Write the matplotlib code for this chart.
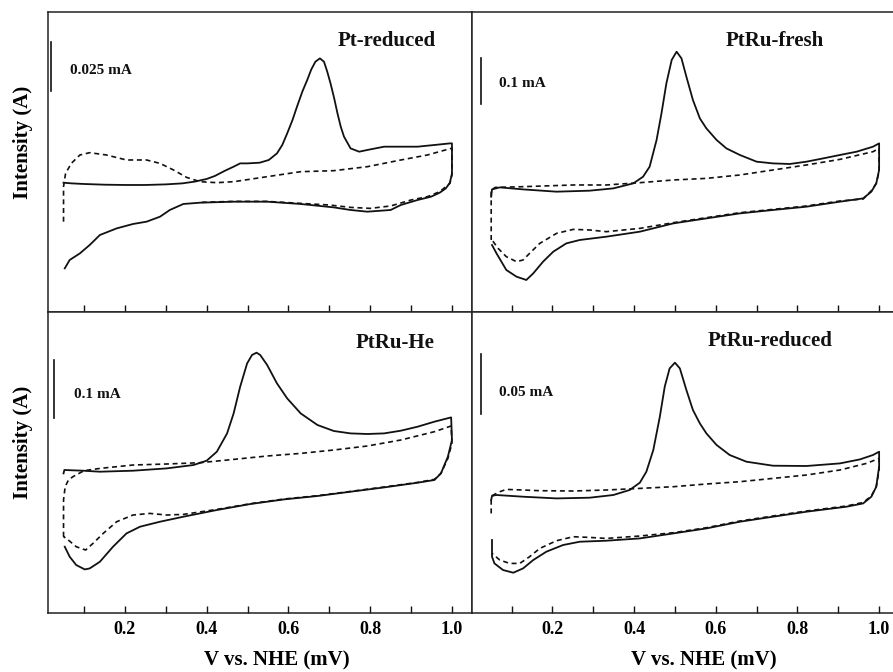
import matplotlib
matplotlib.use("Agg")
import matplotlib.pyplot as plt
from matplotlib.ticker import FixedLocator

# ---------------- data (potential V vs NHE, current in arbitrary units) ----------------
# Pt-reduced
ptred_solid_v = [0.050, 0.070, 0.100, 0.150, 0.200, 0.250, 0.300, 0.340, 0.370, 0.400, 0.420, 0.445,
                 0.466, 0.482, 0.500, 0.530, 0.552, 0.572, 0.585, 0.597, 0.610, 0.621, 0.634, 0.646,
                 0.656, 0.666, 0.677, 0.687, 0.695, 0.703, 0.712, 0.720, 0.728, 0.736, 0.752, 0.773,
                 0.793, 0.834, 0.875, 0.916, 0.957, 0.995,
                 1.000, 1.000, 0.995, 0.985, 0.970, 0.949, 0.916, 0.875, 0.850, 0.793, 0.752, 0.711,
                 0.630, 0.548, 0.466, 0.384, 0.343, 0.310, 0.286, 0.253, 0.220, 0.180, 0.139, 0.114,
                 0.090, 0.065, 0.053]
ptred_solid_i = [129.0, 128.3, 127.7, 127.0, 126.7, 126.7, 127.3, 128.3, 130.0, 132.7, 135.7, 141.0,
                 145.0, 148.3, 148.3, 149.0, 151.7, 158.3, 166.7, 178.3, 191.7, 205.0, 220.0, 231.7,
                 242.3, 250.0, 253.3, 250.0, 240.0, 228.3, 213.3, 198.3, 185.0, 175.0, 163.3, 160.0,
                 161.7, 165.0, 165.0, 165.0, 166.7, 168.3,
                 168.3, 138.3, 129.0, 123.3, 119.0, 115.0, 111.7, 106.7, 101.7, 100.0, 101.7, 104.3,
                 107.7, 110.0, 110.0, 109.0, 107.7, 101.7, 95.0, 90.0, 87.7, 83.3, 76.7, 66.7,
                 58.3, 51.7, 43.3]
ptred_dash_v = [0.050, 0.050, 0.055, 0.069, 0.090, 0.114, 0.155, 0.204, 0.253, 0.286, 0.319, 0.351,
                0.384, 0.425, 0.466, 0.548, 0.630, 0.711, 0.793, 0.875, 0.940, 0.998,
                1.000, 1.000, 0.995, 0.970, 0.940, 0.900, 0.850, 0.800, 0.752, 0.700, 0.630, 0.548,
                0.466, 0.384]
ptred_dash_i = [90.0, 125.0, 138.3, 148.3, 156.7, 159.0, 156.7, 151.7, 151.7, 148.3, 141.7, 134.3,
                130.0, 129.0, 130.0, 135.0, 140.0, 141.0, 145.0, 151.7, 156.7, 163.3,
                163.3, 136.7, 128.3, 120.0, 115.0, 111.7, 105.7, 103.3, 104.3, 106.7, 108.3, 110.3,
                110.3, 109.3]

# PtRu-fresh
fresh_solid_v = [0.050, 0.052, 0.071, 0.128, 0.210, 0.291, 0.349, 0.398, 0.422, 0.438, 0.455, 0.467,
                 0.479, 0.492, 0.504, 0.516, 0.528, 0.544, 0.561, 0.577, 0.602, 0.626, 0.659, 0.700,
                 0.740, 0.781, 0.822, 0.863, 0.904, 0.945, 0.985, 1.000,
                 1.000, 0.993, 0.981, 0.961, 0.904, 0.822, 0.740, 0.659, 0.577, 0.496, 0.414, 0.332,
                 0.267, 0.234, 0.202, 0.177, 0.153, 0.136, 0.112, 0.087, 0.063, 0.052]
fresh_solid_i = [115.0, 122.3, 124.3, 122.3, 120.0, 121.0, 123.3, 128.3, 135.0, 145.0, 171.7, 198.3,
                 228.3, 251.7, 260.0, 253.3, 235.0, 211.7, 193.3, 183.3, 171.7, 163.3, 156.7, 150.0,
                 148.3, 147.7, 150.0, 153.3, 156.7, 160.0, 165.0, 168.3,
                 141.7, 128.3, 120.0, 113.3, 110.0, 105.0, 101.7, 98.3, 93.3, 88.3, 80.0, 75.0,
                 71.7, 68.3, 60.0, 50.0, 38.3, 31.7, 35.0, 41.7, 58.3, 66.7]
fresh_dash_v = [0.050, 0.050, 0.060, 0.128, 0.251, 0.332, 0.414, 0.496, 0.577, 0.659, 0.740, 0.822,
                0.904, 0.985, 1.000,
                1.000, 0.993, 0.981, 0.961, 0.904, 0.822, 0.740, 0.659, 0.577, 0.496, 0.414, 0.332,
                0.291, 0.251, 0.210, 0.169, 0.144, 0.128, 0.112, 0.087, 0.067, 0.052]
fresh_dash_i = [71.7, 121.7, 124.3, 125.0, 126.7, 126.7, 129.0, 131.7, 133.3, 136.7, 141.7, 146.7,
                152.3, 160.0, 163.3,
                140.0, 128.3, 121.0, 112.7, 110.7, 105.7, 102.3, 99.0, 94.0, 89.0, 83.3, 80.0,
                81.7, 82.3, 78.3, 68.3, 58.3, 51.7, 50.0, 55.0, 63.3, 71.7]

# PtRu-He
he_solid_v = [0.050, 0.052, 0.098, 0.139, 0.220, 0.302, 0.368, 0.400, 0.425, 0.450, 0.466, 0.482,
              0.499, 0.511, 0.522, 0.531, 0.548, 0.572, 0.597, 0.630, 0.671, 0.711, 0.752, 0.793,
              0.834, 0.875, 0.916, 0.957, 0.998,
              1.000, 0.990, 0.973, 0.957, 0.916, 0.834, 0.752, 0.671, 0.589, 0.507, 0.425, 0.343,
              0.286, 0.237, 0.204, 0.171, 0.139, 0.114, 0.102, 0.081, 0.065, 0.053]
he_solid_i = [139.3, 142.7, 142.0, 141.0, 142.0, 144.3, 147.7, 152.0, 161.0, 179.3, 199.3, 226.0,
              249.3, 257.7, 260.0, 257.7, 247.7, 229.3, 214.3, 199.3, 187.7, 181.7, 179.3, 178.7,
              179.3, 182.0, 186.0, 191.0, 195.3,
              172.7, 156.0, 139.3, 132.7, 130.0, 125.3, 121.0, 116.7, 113.3, 108.7, 102.7, 96.0,
              91.0, 86.0, 79.3, 66.0, 51.0, 44.3, 43.3, 47.7, 56.0, 66.0]
he_dash_v = [0.050, 0.050, 0.054, 0.062, 0.073, 0.100, 0.139, 0.220, 0.302, 0.384, 0.466, 0.548,
             0.630, 0.711, 0.793, 0.875, 0.957, 0.998,
             1.000, 0.990, 0.973, 0.957, 0.916, 0.834, 0.752, 0.671, 0.589, 0.507, 0.425, 0.343,
             0.302, 0.261, 0.220, 0.180, 0.147, 0.122, 0.104, 0.081, 0.057, 0.050]
he_dash_i = [76.0, 112.7, 126.0, 132.7, 136.0, 142.0, 144.3, 147.7, 148.7, 150.0, 153.3, 156.7,
             159.3, 162.7, 166.7, 172.7, 181.0, 186.7,
             169.3, 154.3, 139.3, 133.3, 130.3, 125.7, 121.3, 117.0, 113.7, 109.0, 103.3, 98.3,
             97.7, 99.3, 97.7, 91.0, 79.3, 69.3, 62.7, 66.0, 74.3, 76.0]

# PtRu-reduced
rured_solid_v = [0.050, 0.052, 0.063, 0.128, 0.210, 0.291, 0.349, 0.389, 0.414, 0.430, 0.447, 0.463,
                 0.475, 0.487, 0.500, 0.512, 0.528, 0.544, 0.561, 0.577, 0.602, 0.634, 0.675, 0.740,
                 0.822, 0.904, 0.953, 0.985, 1.000,
                 1.000, 0.993, 0.981, 0.961, 0.920, 0.822, 0.740, 0.659, 0.577, 0.496, 0.414, 0.332,
                 0.267, 0.226, 0.185, 0.153, 0.128, 0.104, 0.079, 0.058, 0.052, 0.052]
rured_solid_i = [112.7, 117.0, 117.7, 116.0, 114.3, 115.0, 117.7, 122.7, 130.0, 141.0, 162.7, 196.0,
                 226.0, 244.3, 250.0, 244.3, 222.7, 202.7, 189.3, 179.3, 167.7, 157.7, 151.0, 147.0,
                 146.7, 149.3, 153.3, 157.7, 161.0,
                 146.0, 126.0, 116.0, 109.3, 106.0, 101.0, 96.0, 91.0, 84.3, 79.3, 74.3, 72.0,
                 71.0, 67.7, 61.0, 52.7, 44.3, 40.0, 42.7, 49.3, 56.0, 72.7]
rured_dash_v = [0.050, 0.050, 0.055, 0.071, 0.087, 0.128, 0.169, 0.251, 0.332, 0.414, 0.496, 0.577,
                0.659, 0.740, 0.822, 0.904, 0.969, 1.000,
                1.000, 0.993, 0.981, 0.961, 0.920, 0.822, 0.740, 0.659, 0.577, 0.496, 0.414, 0.332,
                0.291, 0.251, 0.210, 0.169, 0.144, 0.120, 0.095, 0.071, 0.052]
rured_dash_i = [99.3, 112.7, 117.7, 121.0, 123.3, 122.7, 122.0, 121.7, 122.7, 124.3, 126.0, 128.7,
                131.0, 134.3, 137.7, 142.7, 149.3, 154.3,
                142.7, 126.0, 116.7, 110.3, 106.7, 101.7, 96.7, 91.7, 85.0, 80.0, 76.7, 74.3,
                75.3, 76.0, 72.0, 64.3, 56.0, 49.3, 49.3, 52.7, 59.3]

panel_titles = ["Pt-reduced", "PtRu-fresh", "PtRu-He", "PtRu-reduced"]
scale_labels = ["0.025 mA", "0.1 mA", "0.1 mA", "0.05 mA"]
scale_bar_low = [221.0, 207.7, 194.4, 198.7]
scale_bar_high = [270.0, 253.4, 252.7, 258.7]

major_ticks = [0.2, 0.4, 0.6, 0.8, 1.0]
minor_ticks = [0.1, 0.3, 0.5, 0.7, 0.9]
tick_labels = ["0.2", "0.4", "0.6", "0.8", "1.0"]

# ---------------- figure ----------------
plt.rcParams['font.family'] = ['Liberation Serif', 'DejaVu Serif']
plt.rcParams['font.weight'] = 'bold'
ink = "#111111"

fig = plt.figure(figsize=(8.93, 6.72), dpi=100)

positions = [
    [0.05375, 0.5362, 0.4748, 0.4464],
    [0.52856, 0.5362, 0.47144, 0.4464],
    [0.05375, 0.0882, 0.4748, 0.4480],
    [0.52856, 0.0882, 0.47144, 0.4480],
]
xlims = [(0.012, 1.049), (0.003, 1.034), (0.012, 1.049), (0.003, 1.034)]
ylims = [(0, 300), (0, 300), (0, 301), (0, 301)]

data = [
    (ptred_solid_v, ptred_solid_i, ptred_dash_v, ptred_dash_i),
    (fresh_solid_v, fresh_solid_i, fresh_dash_v, fresh_dash_i),
    (he_solid_v, he_solid_i, he_dash_v, he_dash_i),
    (rured_solid_v, rured_solid_i, rured_dash_v, rured_dash_i),
]

title_pos = [(0.961, 266.0), (0.864, 266.0), (0.957, 264.4), (0.887, 267.0)]
scale_x = [0.020, 0.026, 0.026, 0.026]
scale_text_pos = [(0.067, 237.7), (0.069, 224.4), (0.075, 214.4), (0.069, 217.0)]

for k in range(4):
    ax = fig.add_axes(positions[k])
    sv, si, dv, di = data[k]
    ax.plot(sv, si, color=ink, lw=1.3, solid_joinstyle='round')
    ax.plot(dv, di, color=ink, lw=1.2, linestyle=(0, (3.0, 2.2)))

    ax.set_xlim(*xlims[k])
    ax.set_ylim(*ylims[k])
    ax.set_yticks([])
    ax.xaxis.set_major_locator(FixedLocator(major_ticks))
    ax.xaxis.set_minor_locator(FixedLocator(minor_ticks))
    ax.tick_params(which='both', direction='in', length=5, width=1.0, color=ink,
                   top=False, left=False, right=False, bottom=True)
    for sp in ax.spines.values():
        sp.set_linewidth(1.1)
        sp.set_color("#222222")

    if k in (1, 3):
        ax.spines['right'].set_visible(False)

    if k < 2:
        ax.tick_params(labelbottom=False)
    else:
        ax.set_xticklabels(tick_labels, fontsize=13, fontweight='bold')
        ax.tick_params(which='major', pad=6)
        ax.set_xlabel("V vs. NHE (mV)", fontsize=15, fontweight='bold')
        ax.xaxis.set_label_coords(0.54 if k == 2 else 0.55, -0.127)

    if k in (0, 2):
        ax.set_ylabel("Intensity (A)", fontsize=15, fontweight='bold')
        ax.yaxis.set_label_coords(-0.036, 0.565)

    tx, ty = title_pos[k]
    ax.text(tx, ty, panel_titles[k], fontsize=15, fontweight='bold', ha='right',
            va='baseline', color=ink)
    ax.plot([scale_x[k], scale_x[k]], [scale_bar_low[k], scale_bar_high[k]], color=ink, lw=1.2)
    sx, sy = scale_text_pos[k]
    ax.text(sx, sy, scale_labels[k], fontsize=11, fontweight='bold', ha='left',
            va='baseline', color=ink)

fig.savefig("out.png", dpi=100)
